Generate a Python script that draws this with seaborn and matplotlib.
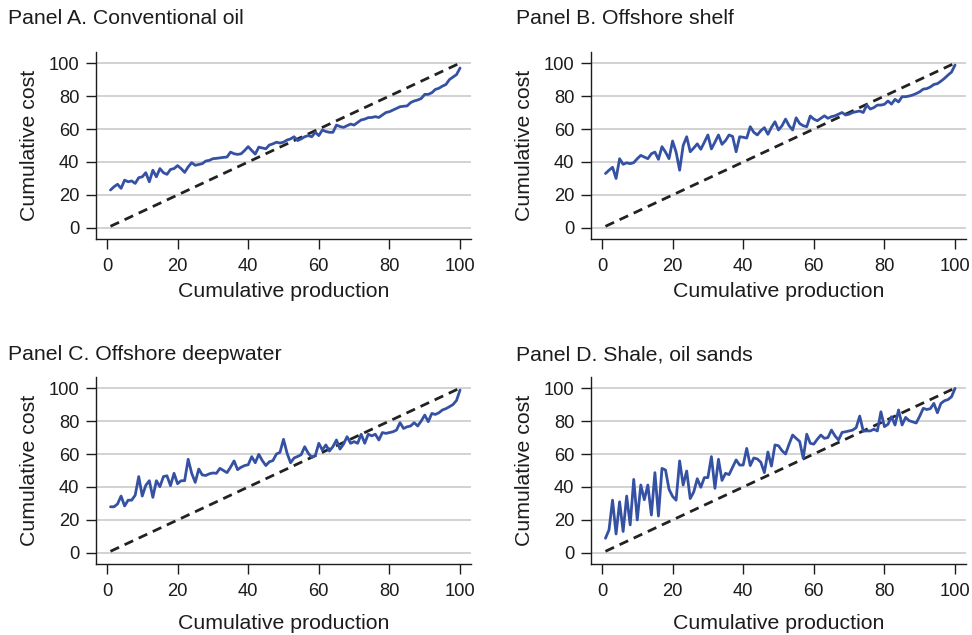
import numpy as np
import pandas as pd
import matplotlib
matplotlib.use("Agg")
import matplotlib.pyplot as plt
import seaborn as sns

production = list(range(1, 101))

panel_titles = ["Panel A. Conventional oil", "Panel B. Offshore shelf",
                "Panel C. Offshore deepwater", "Panel D. Shale, oil sands"]

conventional_oil = [
    23, 25, 26.5, 24, 29, 28, 28.5, 27, 30.5, 31,
    33.5, 28, 35, 31, 36, 33.5, 32.5, 35.5, 36, 37.8,
    36, 33.7, 37, 39.6, 38, 38.5, 39, 40.6, 41, 42,
    42.2, 42.5, 42.8, 43, 46, 45, 44.6, 45, 47, 49.3,
    47, 44.8, 49, 48.5, 48, 50.3, 51, 52, 51.5, 52,
    53.3, 54, 55.3, 53, 54, 55.3, 56, 55.3, 58, 56,
    59.4, 58.5, 58, 58, 62.4, 61.5, 61, 62, 63, 62.4,
    64, 65.5, 66, 66.9, 67, 67.5, 67, 68.5, 70, 70.5,
    71.5, 72.5, 73.5, 73.8, 74, 76, 77, 77.6, 78.5, 81,
    81, 82, 84, 84.7, 86, 87, 90, 91.5, 93, 97]

offshore_shelf = [
    33, 35, 36.8, 30, 42, 38.6, 39.5, 39, 39.6, 42,
    44, 43, 42, 45, 46, 41.6, 49.3, 46, 42, 52.7,
    46, 35, 50, 55.3, 46.2, 48.5, 51, 47.7, 52, 56.4,
    47.9, 52, 56.4, 50.7, 53, 56.4, 55.5, 46.2, 55.3, 55,
    54.5, 61.4, 58, 56.4, 59, 60.8, 56.8, 61, 64.4, 59.4,
    62, 66, 62, 59.4, 66.8, 63.3, 62, 61.4, 67.9, 66,
    65, 66.5, 68, 66.5, 67.5, 68, 69, 70, 68.5, 69,
    70, 70.5, 70.9, 70, 74.5, 72.1, 73, 74.5, 74.5, 75,
    77, 75.1, 78, 76.4, 79.6, 79.6, 80, 80.6, 81.5, 82.6,
    84.2, 84.5, 85.5, 87, 87.5, 89, 90.7, 92.7, 94.5, 98.8]

offshore_deepwater = [
    28, 28, 29.7, 34.5, 28.5, 32, 32, 35, 46.3, 34.5,
    41, 43.8, 33.7, 43.8, 40.2, 46.3, 46.8, 40.8, 48.3, 42,
    43.8, 43.8, 56.8, 48.3, 42.8, 50.9, 47.3, 47, 48, 48.5,
    48.3, 51.3, 50, 48.7, 52, 55.8, 50.5, 52, 53, 53.5,
    58.4, 54.7, 59.8, 56, 53, 55.3, 56, 60, 61, 68.9,
    60.6, 54.7, 57.6, 58.5, 59.6, 64.4, 60.5, 58, 59, 66.5,
    62.4, 65.5, 61.8, 64.5, 68.5, 63, 66, 70.5, 66.5, 67.5,
    66.5, 72, 66.5, 72, 71, 72, 68.5, 73, 72.5, 73,
    73.5, 74.5, 79, 75.5, 76.5, 77, 79, 77, 80, 83.6,
    79.6, 84.6, 84, 85, 86.7, 87.5, 88.7, 90, 92.5, 98.8]

shale_oil_sands = [
    8.9, 14, 32, 11.5, 31, 13, 34.5, 17, 44.6, 20,
    41.2, 32.3, 41.2, 23, 48.7, 22.4, 51.3, 50.3, 38.6, 34.3,
    32, 55.8, 41.2, 49.7, 33, 37, 45, 39.8, 45.7, 45.7,
    58.4, 39.2, 56.8, 44, 48.3, 47.5, 52, 56.4, 53.3, 53.3,
    63.4, 53, 57.6, 57, 55, 48.7, 61.2, 52.7, 65.5, 65,
    62, 60, 66, 71.5, 69.5, 67.6, 57.4, 72, 66.5, 66,
    69, 71.5, 69.5, 70, 74.5, 71, 68.5, 73.1, 73.5, 74,
    74.5, 76, 83, 73.9, 74, 74, 75, 74, 85.6, 76.6,
    78, 82.6, 77.6, 86.7, 77.6, 82.2, 80.2, 79.5, 78.8, 83,
    87.7, 87, 87.5, 90.7, 85, 90.7, 92.3, 93, 94.7, 99.8]

series = [conventional_oil, offshore_shelf, offshore_deepwater, shale_oil_sands]

x_ticks = [0, 20, 40, 60, 80, 100]
y_ticks = [0, 20, 40, 60, 80, 100]

sns.set_theme(style="white")
plt.rcParams["font.family"] = ["Liberation Sans", "DejaVu Sans"]

W, H = 972, 635
fig = plt.figure(figsize=(W / 100, H / 100), dpi=100)

# axes boxes in pixels: (left, top, right, bottom)
boxes = [(96, 52, 471, 239), (591, 52, 966, 239),
         (96, 377, 471, 564), (591, 377, 966, 564)]
title_pos = [(8, 18), (516, 18), (8, 355), (516, 355)]
xlabel_pads = [5, 5, 10, 10]

ink = "#1c1c1c"
blue = "#3551a3"
for i in range(4):
    l, t, r, b = boxes[i]
    ax = fig.add_axes([l / W, 1 - b / H, (r - l) / W, (b - t) / H])
    df = pd.DataFrame({"production": production, "cost": series[i]})
    for yv in y_ticks:
        ax.axhline(yv, color="#cfcfcf", lw=1.3, zorder=0)
    sns.lineplot(data=df, x="production", y="production", ax=ax,
                 color="#222222", lw=2.0, linestyle=(0, (3.4, 2.2)), zorder=2)
    sns.lineplot(data=df, x="production", y="cost", ax=ax,
                 color=blue, lw=2.0, zorder=3)
    ax.set_xlim(-3.1, 103.1)
    ax.set_ylim(-6.7, 106.7)
    ax.set_xticks(x_ticks)
    ax.set_yticks(y_ticks)
    ax.tick_params(axis="both", labelsize=13.2, colors=ink, direction="out",
                   length=7, width=1, bottom=True, left=True)
    ax.tick_params(axis="y", pad=5)
    ax.tick_params(axis="x", pad=7)
    for s in ["top", "right"]:
        ax.spines[s].set_visible(False)
    for s in ["left", "bottom"]:
        ax.spines[s].set_color(ink)
        ax.spines[s].set_linewidth(1.0)
    ax.set_xlabel("Cumulative production", fontsize=15.3, color=ink,
                  labelpad=xlabel_pads[i])
    ax.set_ylabel("Cumulative cost", fontsize=15.3, color=ink, labelpad=7)
    ax.grid(False)
    tx, ty = title_pos[i]
    fig.text(tx / W, 1 - ty / H, panel_titles[i], fontsize=15.3, color=ink,
             ha="left", va="center")

fig.savefig("out.png", dpi=100)
